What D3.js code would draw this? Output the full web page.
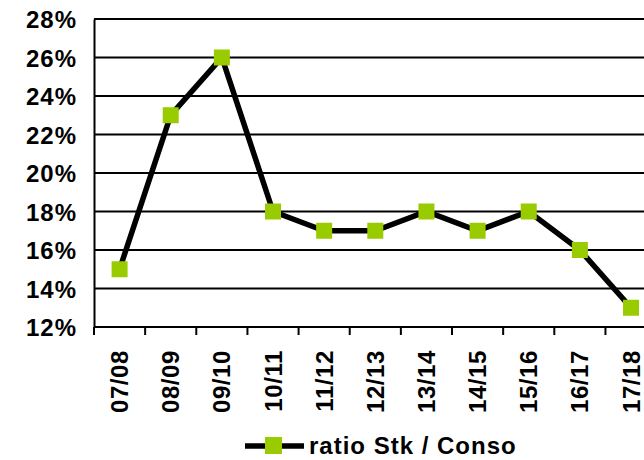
<!DOCTYPE html>
<html>
<head>
<meta charset="utf-8">
<script src="https://cdn.jsdelivr.net/npm/d3@7"></script>
<style>
body { margin: 0; background: #fff; }
svg text { font-family: Arial, "Liberation Sans", sans-serif; font-weight: bold; fill: #000; }
</style>
</head>
<body>
<div id="chart"></div>
<script>

// data
var categories = ["07/08","08/09","09/10","10/11","11/12","12/13","13/14","14/15","15/16","16/17","17/18"]
var ratioValues = [15, 23, 26, 18, 17, 17, 18, 17, 18, 16, 13]
var yTicks = [12, 14, 16, 18, 20, 22, 24, 26, 28]
var seriesName = "ratio Stk / Conso"

var width = 644, height = 460
var plotLeft = 94, plotRight = 656.6, plotTop = 19, plotBottom = 327

var svg = d3.select("#chart").append("svg")
  .attr("width", width)
  .attr("height", height)

var x = d3.scaleBand()
  .domain(categories)
  .range([plotLeft, plotRight])
  .padding(0)

var y = d3.scaleLinear()
  .domain([12, 28])
  .range([plotBottom, plotTop])

// horizontal grid
svg.append("g")
  .selectAll("line")
  .data(yTicks.filter(function(d){ return d > 12 }))
  .enter()
  .append("line")
  .attr("x1", plotLeft)
  .attr("x2", plotRight)
  .attr("y1", function(d){ return y(d) })
  .attr("y2", function(d){ return y(d) })
  .attr("stroke", "#000")
  .attr("stroke-width", 2)

// y axis
var yAxis = d3.axisLeft(y)
  .tickValues(yTicks)
  .tickSize(0)
  .tickPadding(17)
  .tickFormat(function(d){ return d + "%" })

var gy = svg.append("g")
  .attr("transform", "translate(" + plotLeft + ",0)")
  .call(yAxis)
gy.select(".domain").attr("stroke", "#000").attr("stroke-width", 2)
gy.selectAll("text")
  .style("font-size", "24px")
  .style("letter-spacing", "1px")
  .attr("dy", "0.36em")

// x axis
svg.append("line")
  .attr("x1", plotLeft)
  .attr("x2", plotRight)
  .attr("y1", plotBottom)
  .attr("y2", plotBottom)
  .attr("stroke", "#000")
  .attr("stroke-width", 2)

var tickPos = categories.map(function(c){ return x(c) }).concat([plotRight])
svg.append("g")
  .selectAll("line")
  .data(tickPos)
  .enter()
  .append("line")
  .attr("x1", function(d){ return d })
  .attr("x2", function(d){ return d })
  .attr("y1", plotBottom)
  .attr("y2", plotBottom + 8)
  .attr("stroke", "#000")
  .attr("stroke-width", 2)

svg.append("g")
  .selectAll("text")
  .data(categories)
  .enter()
  .append("text")
  .attr("transform", function(d){
    return "translate(" + (x(d) + x.bandwidth() / 2 + 8.5) + "," + (plotBottom + 23) + ") rotate(-90)"
  })
  .attr("text-anchor", "end")
  .style("font-size", "24px")
  .style("letter-spacing", "0.6px")
  .text(function(d){ return d })

// line
var line = d3.line()
  .x(function(d, i){ return x(categories[i]) + x.bandwidth() / 2 })
  .y(function(d){ return y(d) })

svg.append("path")
  .datum(ratioValues)
  .attr("d", line)
  .attr("fill", "none")
  .attr("stroke", "#000")
  .attr("stroke-width", 5.5)
  .attr("stroke-linejoin", "miter")

var ms = 16
svg.append("g")
  .selectAll("rect")
  .data(ratioValues)
  .enter()
  .append("rect")
  .attr("x", function(d, i){ return x(categories[i]) + x.bandwidth() / 2 - ms / 2 })
  .attr("y", function(d){ return y(d) - ms / 2 })
  .attr("width", ms)
  .attr("height", ms)
  .attr("fill", "#99CC00")

// legend
var lg = svg.append("g")
lg.append("line")
  .attr("x1", 245).attr("x2", 304)
  .attr("y1", 446).attr("y2", 446)
  .attr("stroke", "#000")
  .attr("stroke-width", 5.5)
lg.append("rect")
  .attr("x", 265).attr("y", 437)
  .attr("width", 17).attr("height", 17)
  .attr("fill", "#99CC00")
lg.append("text")
  .attr("x", 309)
  .attr("y", 454)
  .style("font-size", "24px")
  .style("letter-spacing", "1px")
  .text(seriesName)

</script>
</body>
</html>
